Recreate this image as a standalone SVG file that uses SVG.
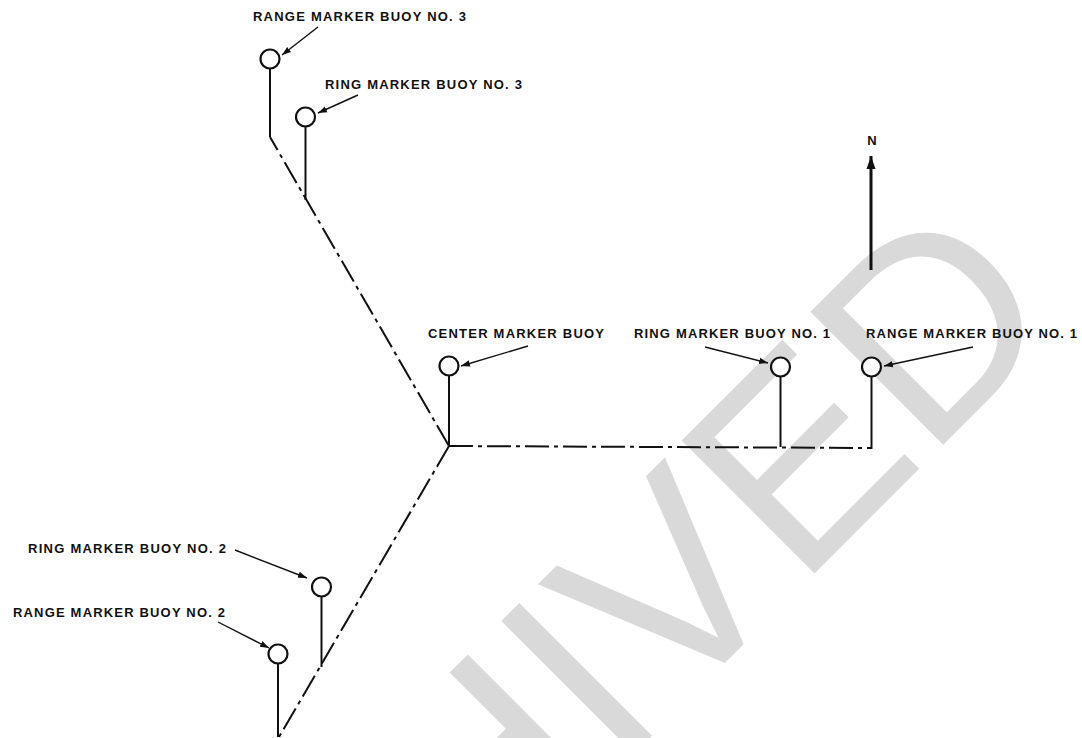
<svg xmlns="http://www.w3.org/2000/svg" width="1082" height="738" viewBox="0 0 1082 738">
<style>
.lbl{font-family:"Liberation Sans",Arial,sans-serif;font-weight:bold;font-size:13px;fill:#111}
.buoy{fill:#fff;stroke:#111;stroke-width:2.2}
.stem{stroke:#111;stroke-width:2;fill:none}
.lead{stroke:#111;stroke-width:1.4;fill:none;marker-end:url(#ah)}
.dd{stroke:#111;stroke-width:2;fill:none;stroke-dasharray:24 5 4 5}
.wm{font-family:"Liberation Sans",Arial,sans-serif;font-size:273px;fill:#d9d9d9}
</style>
<defs>
<marker id="ah" markerUnits="userSpaceOnUse" markerWidth="10" markerHeight="8" refX="9" refY="4" orient="auto">
<path d="M0,0.8 L9,4 L0,7.2 Z" fill="#111"/>
</marker>
<marker id="nh" markerUnits="userSpaceOnUse" markerWidth="14" markerHeight="10" refX="13" refY="5" orient="auto">
<path d="M0,0.5 L13,5 L0,9.5 Z" fill="#111"/>
</marker>
</defs>
<rect width="1082" height="738" fill="#fff"/>
<text class="wm" transform="translate(69.3 1318.6) rotate(-45)">ARCHIVED</text>

<g id="connectors">
<line class="dd" x1="449" y1="446" x2="270" y2="137"/>
<line class="dd" x1="449" y1="446" x2="279" y2="737"/>
<line class="dd" x1="449" y1="446" x2="872" y2="448"/>
</g>

<g id="range3">
<path class="stem" d="M270,68 V137"/>
<circle class="buoy" cx="270" cy="59" r="9.5"/>
<line class="lead" x1="318" y1="27" x2="282" y2="55"/>
<text class="lbl" x="253" y="20.5" textLength="213" lengthAdjust="spacing">RANGE MARKER BUOY NO. 3</text>
</g>
<g id="ring3">
<path class="stem" d="M305.5,126.5 V200"/>
<circle class="buoy" cx="305.5" cy="117" r="9.5"/>
<line class="lead" x1="358" y1="95" x2="318" y2="113"/>
<text class="lbl" x="325" y="89" textLength="197" lengthAdjust="spacing">RING MARKER BUOY NO. 3</text>
</g>
<g id="center">
<path class="stem" d="M449,376 V446"/>
<circle class="buoy" cx="449" cy="366" r="9.5"/>
<line class="lead" x1="528" y1="346" x2="461" y2="366"/>
<text class="lbl" x="428" y="338" textLength="176" lengthAdjust="spacing">CENTER MARKER BUOY</text>
</g>
<g id="ring1">
<path class="stem" d="M780.5,376.5 V447"/>
<circle class="buoy" cx="780.5" cy="367" r="9.5"/>
<line class="lead" x1="705" y1="347" x2="768" y2="363"/>
<text class="lbl" x="634" y="338" textLength="196" lengthAdjust="spacing">RING MARKER BUOY NO. 1</text>
</g>
<g id="range1">
<path class="stem" d="M871.5,376.5 V449"/>
<circle class="buoy" cx="871.5" cy="367" r="9.5"/>
<line class="lead" x1="973" y1="347" x2="884" y2="366"/>
<text class="lbl" x="866" y="338" textLength="211" lengthAdjust="spacing">RANGE MARKER BUOY NO. 1</text>
</g>
<g id="ring2">
<path class="stem" d="M321.5,596.5 V667"/>
<circle class="buoy" cx="321.5" cy="587" r="9.5"/>
<line class="lead" x1="235" y1="550" x2="307" y2="578"/>
<text class="lbl" x="28" y="553" textLength="198" lengthAdjust="spacing">RING MARKER BUOY NO. 2</text>
</g>
<g id="range2">
<path class="stem" d="M278,663.5 V737"/>
<circle class="buoy" cx="278" cy="654" r="9.5"/>
<line class="lead" x1="218" y1="622" x2="269" y2="648"/>
<text class="lbl" x="13" y="617" textLength="212" lengthAdjust="spacing">RANGE MARKER BUOY NO. 2</text>
</g>
<g id="north">
<line x1="871" y1="270" x2="871" y2="156" stroke="#111" stroke-width="3" marker-end="url(#nh)"/>
<text class="lbl" x="872" y="145" text-anchor="middle">N</text>
</g>
</svg>
